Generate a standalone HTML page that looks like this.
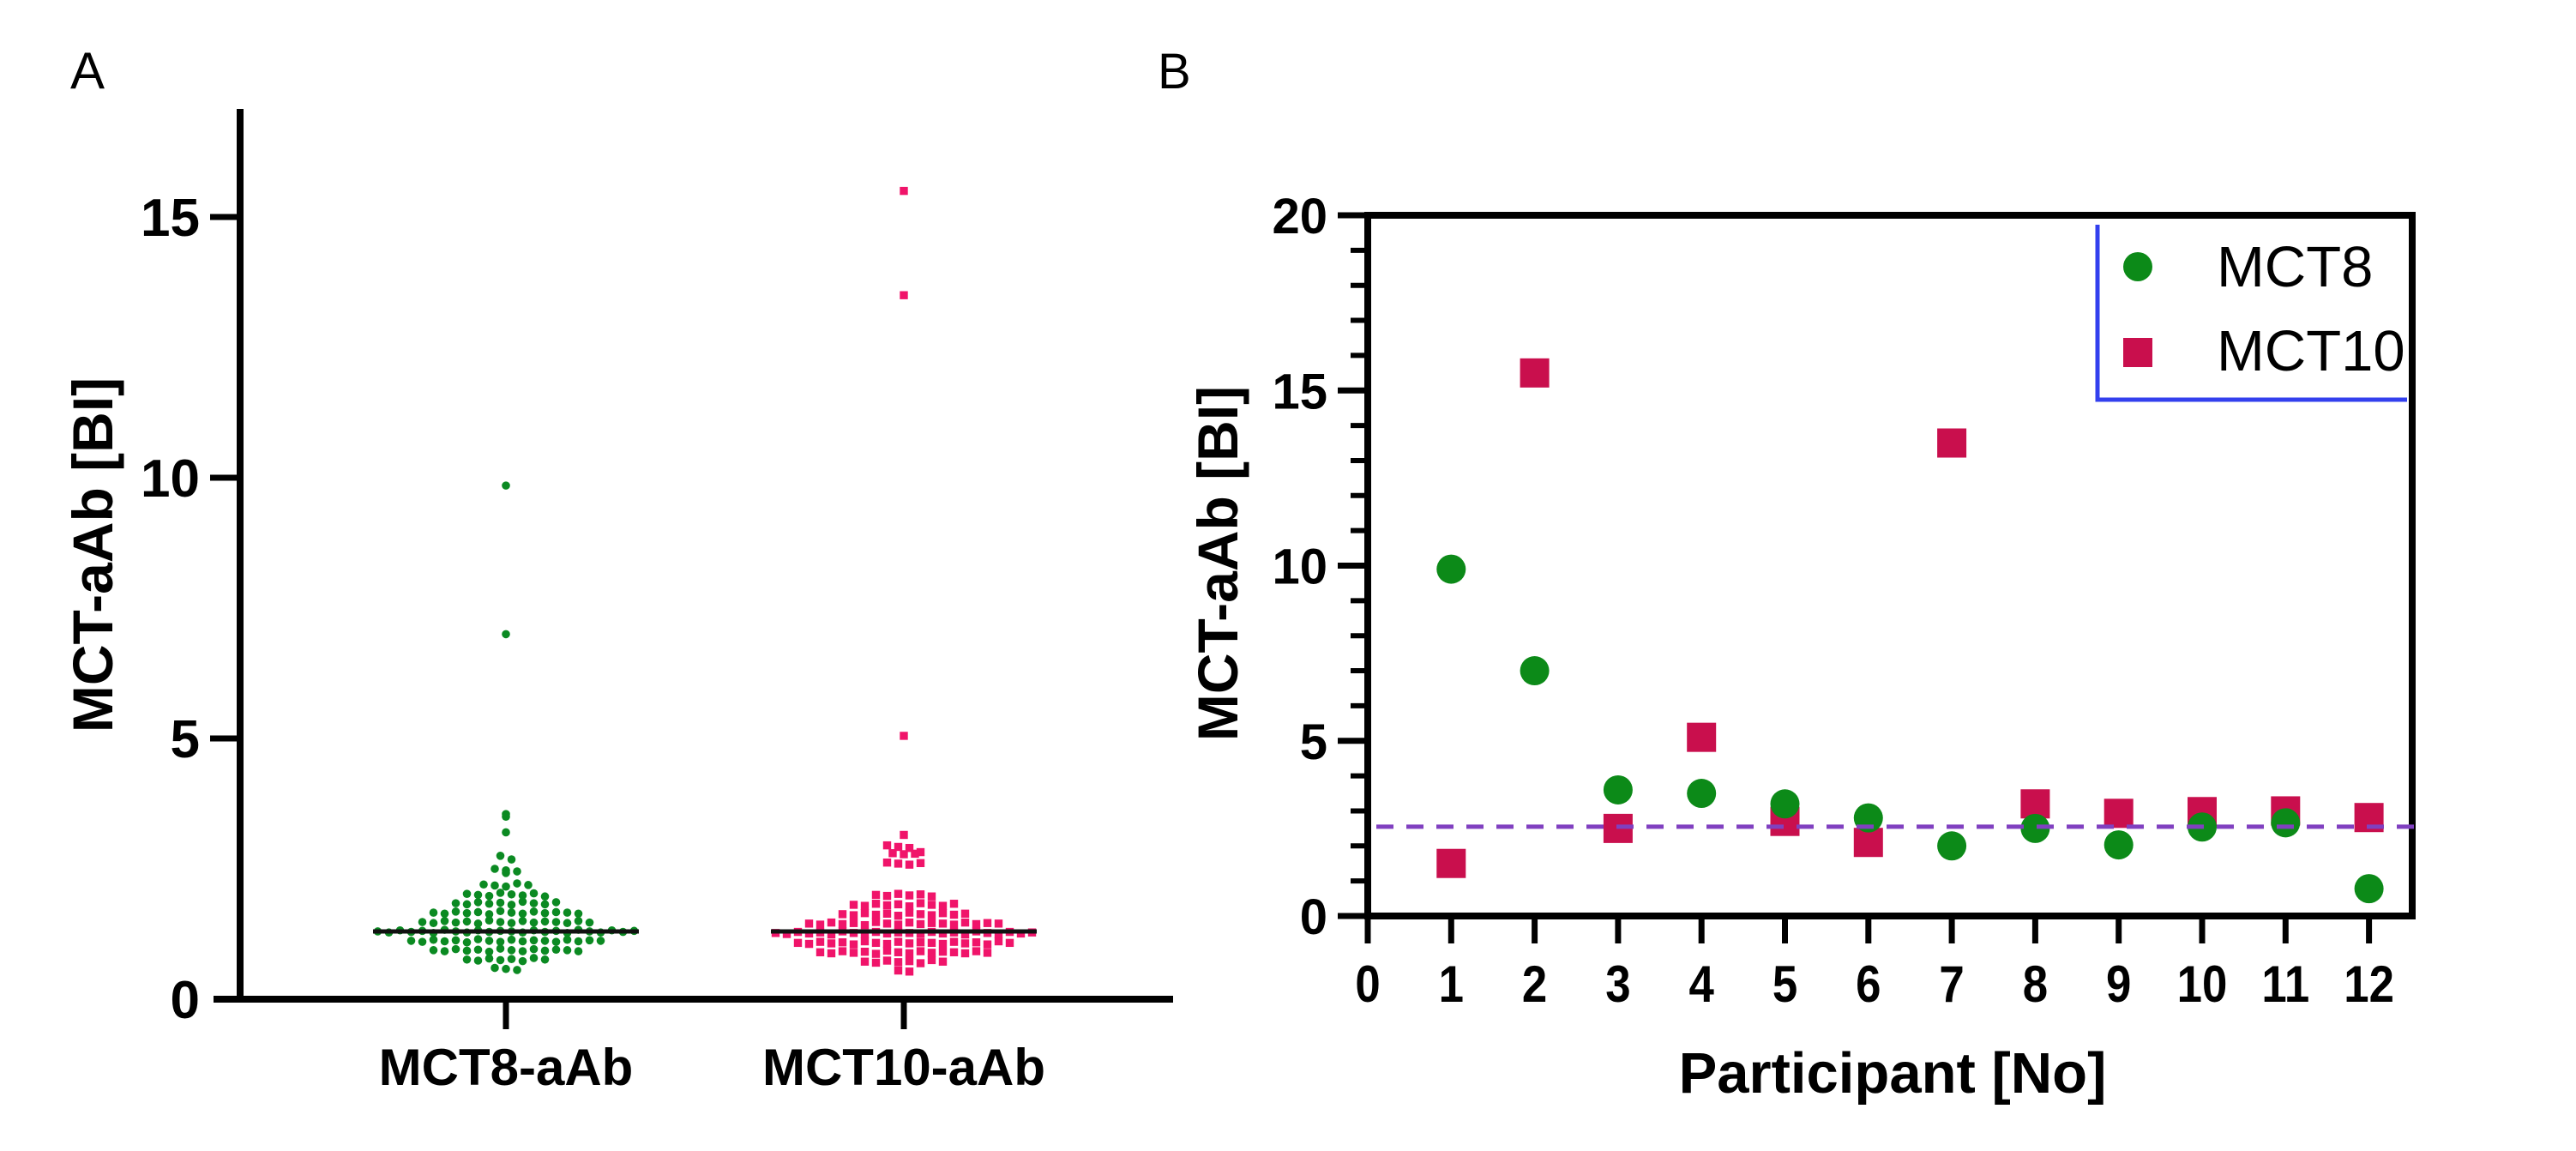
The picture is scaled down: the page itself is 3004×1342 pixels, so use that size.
<!DOCTYPE html>
<html><head><meta charset="utf-8"><style>
html,body{margin:0;padding:0;background:#fff;}
svg{display:block;font-family:"Liberation Sans",Arial,sans-serif;}
</style></head><body>
<svg id="fig" width="3004" height="1342" viewBox="0 0 3004 1342" xmlns="http://www.w3.org/2000/svg">
<rect width="3004" height="1342" fill="#fff"/>
<text x="82" y="103" font-size="60">A</text>
<text x="1350" y="103" font-size="58">B</text>
<g id="pa"></g>
<g id="pb"></g>
</svg>
<script>
const NS='http://www.w3.org/2000/svg';
// ---------- Panel A data ----------
const aCategories=['MCT8-aAb','MCT10-aAb'];
const aTicks=[0,5,10,15];
const aMedians=[1.3,1.3];
const mct8Values=[9.85,7.0,3.55,3.5,3.2,2.75,2.68,2.5,2.47,2.45,2.42,
2.2,2.18,2.16,2.22,2.19,
2.02,2.0,1.98,2.04,2.01,1.99,2.03,1.97,
1.84,1.82,1.86,1.83,1.85,1.81,1.87,1.84,1.82,1.86,
1.66,1.64,1.68,1.65,1.67,1.63,1.69,1.66,1.64,1.68,1.65,1.67,1.66,1.64,
1.48,1.46,1.5,1.47,1.49,1.45,1.51,1.48,1.46,1.5,1.47,1.49,1.48,1.46,1.5,1.47,
1.3,1.28,1.32,1.29,1.31,1.27,1.33,1.3,1.28,1.32,1.29,1.31,1.3,1.28,1.32,1.29,1.31,1.27,1.33,1.3,1.28,1.32,1.29,1.31,
1.12,1.1,1.14,1.11,1.13,1.09,1.15,1.12,1.1,1.14,1.11,1.13,1.12,1.1,1.14,1.11,1.13,1.12,
0.94,0.92,0.96,0.93,0.95,0.91,0.97,0.94,0.92,0.96,0.93,0.95,0.94,0.92,
0.76,0.74,0.78,0.75,0.77,0.73,0.79,0.76,
0.6,0.58,0.56];
const mct10Values=[15.5,13.5,5.05,3.15,2.95,2.92,2.9,2.8,2.78,2.82,2.79,2.62,2.6,2.58,2.61,
2.0,1.98,2.02,1.99,2.01,1.97,
1.81,1.79,1.83,1.8,1.82,1.78,1.84,1.81,1.79,1.83,
1.63,1.61,1.65,1.62,1.64,1.6,1.66,1.63,1.61,1.65,1.62,1.64,
1.45,1.43,1.47,1.44,1.46,1.42,1.48,1.45,1.43,1.47,1.44,1.46,1.45,1.43,1.47,1.44,1.46,1.45,
1.27,1.25,1.29,1.26,1.28,1.24,1.3,1.27,1.25,1.29,1.26,1.28,1.27,1.25,1.29,1.26,1.28,1.24,1.3,1.27,1.25,1.29,1.26,1.28,
1.08,1.06,1.1,1.07,1.09,1.05,1.11,1.08,1.06,1.1,1.07,1.09,1.08,1.06,1.1,1.07,1.09,1.05,1.11,1.08,
0.9,0.88,0.92,0.89,0.91,0.87,0.93,0.9,0.88,0.92,0.89,0.91,0.9,0.88,0.92,0.89,
0.72,0.7,0.74,0.71,0.73,0.69,0.75,0.72,
0.55,0.53];
// ---------- Panel B data ----------
const participants=[1,2,3,4,5,6,7,8,9,10,11,12];
const bMct8=[9.9,7.0,3.6,3.5,3.2,2.8,2.0,2.5,2.03,2.54,2.66,0.78];
const bMct10=[1.5,15.5,2.5,5.1,2.7,2.1,13.5,3.2,2.93,2.98,3.0,2.81];
const bYTicks=[0,5,10,15,20];
const bXTicks=[0,1,2,3,4,5,6,7,8,9,10,11,12];
const bThreshold=2.55;
const legendLabels=['MCT8','MCT10'];

function mk(p,tag,at){const e=document.createElementNS(NS,tag);for(const k in at)e.setAttribute(k,at[k]);p.appendChild(e);return e;}

// ---------- Panel A ----------
(function(){
const g=document.getElementById('pa');
const y0=1165, yTop=127;
const ya=v=>y0-v*60.8;
const xa=i=>[590,1054][i];
let e=mk(g,'line',{x1:280,y1:yTop,x2:280,y2:y0+4,stroke:'#000','stroke-width':8});

e=mk(g,'line',{x1:249,y1:y0,x2:1368,y2:y0,stroke:'#000','stroke-width':8});

aTicks.forEach(t=>{
 const y=ya(t);
 if(t>0){const l=mk(g,'line',{x1:245,y1:y,x2:280,y2:y,stroke:'#000','stroke-width':7});
 }
 const tx=mk(g,'text',{x:233,y:y+22,'font-size':62,'font-weight':'bold','text-anchor':'end'});tx.textContent=t;
 
});
const yt=mk(g,'text',{x:0,y:0,'font-size':66,'font-weight':'bold','text-anchor':'middle',transform:'translate(131,647) rotate(-90)'});
yt.textContent='MCT-aAb [BI]';
aCategories.forEach((c,i)=>{
 const l=mk(g,'line',{x1:xa(i),y1:y0,x2:xa(i),y2:1200,stroke:'#000','stroke-width':7});
 
 const t=mk(g,'text',{x:xa(i),y:1265,'font-size':60,'font-weight':'bold','text-anchor':'middle'});t.textContent=c;
 
});
const sets=[mct8Values,mct10Values];
const colors=['#0b8a22','#f0146a'];
sets.forEach((vals,si)=>{
 const rowH=11, sp=13;
 const rows={};
 vals.forEach(v=>{const r=Math.round(v*60.8/rowH);(rows[r]=rows[r]||[]).push(v);});
 const grp=mk(g,'g',{});
 
 Object.keys(rows).forEach(r=>{
  const arr=rows[r];const n=arr.length;
  arr.forEach((v,k)=>{
   const off=(k-(n-1)/2)*sp;
   const cx=xa(si)+off, cy=ya(v);
   let m;
   if(si===0) m=mk(grp,'circle',{cx:cx,cy:cy,r:4.8,fill:colors[0]});
   else m=mk(grp,'rect',{x:cx-4.7,y:cy-4.7,width:9.4,height:9.4,fill:colors[1]});
   
   
  });
 });
 const ml=mk(g,'line',{x1:xa(si)-155,y1:ya(aMedians[si]),x2:xa(si)+155,y2:ya(aMedians[si]),stroke:'#111','stroke-width':5});
 
});
})();

// ---------- Panel B ----------
(function(){
const g=document.getElementById('pb');
const L=1595,R=2813,T=251,B=1068;
const xb=v=>L+v*97.3;
const yb=v=>B-v*40.85;
let e=mk(g,'rect',{x:L,y:T,width:R-L,height:B-T,fill:'none',stroke:'#000','stroke-width':8});

for(let v=1;v<20;v++){ if(v%5===0)continue;
 const l=mk(g,'line',{x1:L-20,y1:yb(v),x2:L,y2:yb(v),stroke:'#000','stroke-width':6});
 }
bYTicks.forEach(t=>{
 const l=mk(g,'line',{x1:L-35,y1:yb(t),x2:L,y2:yb(t),stroke:'#000','stroke-width':7});
 
 const tx=mk(g,'text',{x:1548,y:yb(t)+21,'font-size':58,'font-weight':'bold','text-anchor':'end'});tx.textContent=t;
 
});
bXTicks.forEach(t=>{
 const l=mk(g,'line',{x1:xb(t),y1:B,x2:xb(t),y2:1100,stroke:'#000','stroke-width':7});
 
 const tx=mk(g,'text',{x:0,y:0,'font-size':60,'font-weight':'bold','text-anchor':'middle',transform:'translate('+xb(t)+',1168) scale(0.88,1)'});tx.textContent=t;
 
});
const yt=mk(g,'text',{x:0,y:0,'font-size':66,'font-weight':'bold','text-anchor':'middle',transform:'translate(1443,657) rotate(-90)'});
yt.textContent='MCT-aAb [BI]';
const xt=mk(g,'text',{x:2207,y:1274,'font-size':67,'font-weight':'bold','text-anchor':'middle'});
xt.textContent='Participant [No]';
participants.forEach((p,i)=>{
 const s=mk(g,'rect',{x:xb(p)-17,y:yb(bMct10[i])-17,width:34,height:34,fill:'#c90f4d'});
 
});
participants.forEach((p,i)=>{
 const c=mk(g,'circle',{cx:xb(p),cy:yb(bMct8[i]),r:17,fill:'#0c8a18'});
 
});
const dl=mk(g,'line',{x1:L+10,y1:yb(bThreshold),x2:R+4,y2:yb(bThreshold),stroke:'#8040c0','stroke-width':5,'stroke-dasharray':'20 15'});

const lg=mk(g,'g',{});

const bl=mk(lg,'polyline',{points:'2446,262 2446,466 2807,466',fill:'none',stroke:'#3340ee','stroke-width':5});

const lc=mk(lg,'circle',{cx:2493,cy:311,r:17,fill:'#0c8a18'});

const ls=mk(lg,'rect',{x:2476,y:394,width:34,height:34,fill:'#c90f4d'});

legendLabels.forEach((t,i)=>{
 const tx=mk(lg,'text',{x:2585,y:[334,432][i],'font-size':67});tx.textContent=t;
 
});
})();
</script>
</body></html>
